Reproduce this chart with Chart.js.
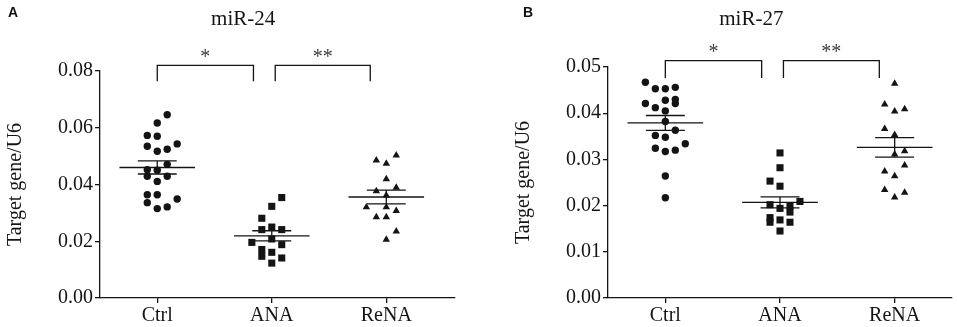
<!DOCTYPE html>
<html>
<head>
<meta charset="utf-8">
<script src="https://cdn.jsdelivr.net/npm/chart.js@4.4.1/dist/chart.umd.min.js"></script>
<style>
body { margin: 0; background: #fff; width: 957px; height: 327px; position: relative; overflow: hidden; }
.panel { position: absolute; top: 0; height: 327px; }
#pa { left: 0; width: 478px; }
#pb { left: 478px; width: 479px; }
.lab { position: absolute; top: 4px; font: bold 14px "Liberation Sans", Arial, sans-serif; color: #111; }
</style>
</head>
<body>
<div class="panel" id="pa"><canvas id="chartA"></canvas></div>
<div class="panel" id="pb"><canvas id="chartB"></canvas></div>
<div class="lab" style="left:8px">A</div>
<div class="lab" style="left:523px">B</div>
<script>
const groups = ['Ctrl', 'ANA', 'ReNA'];

// miR-24 values (column slot = jitter column as drawn in the figure)
const ctrl24 = [0.0646, 0.0617, 0.0573, 0.0570, 0.0535, 0.0517, 0.0524, 0.0543, 0.0471, 0.0452,
                0.0450, 0.0429, 0.0411, 0.0429, 0.0364, 0.0364, 0.0336, 0.0315, 0.0321, 0.0349];
const ctrl24Col = [1, 0, -1, 0, -1, 0, 1, 2, 1, -1, 0, -1, 0, 1, -1, 0, -1, 0, 1, 2];
const ana24 = [0.0354, 0.0323, 0.0281, 0.0241, 0.0250, 0.0241, 0.0196, 0.0208, 0.0188, 0.0171,
               0.0147, 0.0161, 0.0141, 0.0123];
const ana24Col = [1, 0, -1, -1, 0, 1, -2, 0, 1, -1, -1, 0, 1, 0];
const rena24 = [0.0503, 0.0485, 0.0474, 0.0419, 0.0377, 0.0389, 0.0362, 0.0320, 0.0320, 0.0307,
                0.0285, 0.0285, 0.0235, 0.0206];
const rena24Col = [1, -1, 0, 0, -1, 1, 0, -2, 0, 1, -1, 0, 1, 0];
const mean24 = [0.0460, 0.0219, 0.0356];
const sem24 = [0.0023, 0.0018, 0.0024];

// miR-27 values
const ctrl27 = [0.0467, 0.0453, 0.0453, 0.0456, 0.0421, 0.0412, 0.0428, 0.0430, 0.0421, 0.0405,
                0.0382, 0.0363, 0.0352, 0.0348, 0.0334, 0.0324, 0.0317, 0.0320, 0.0264, 0.0217];
const ctrl27Col = [-2, -1, 0, 1, -2, -1, 0, 1, 1, 0, 0, 1, -1, 0, 2, -1, 0, 1, 0, 0];
const ana27 = [0.0314, 0.0282, 0.0253, 0.0242, 0.0202, 0.0209, 0.0194, 0.0199, 0.0186, 0.0174,
               0.0164, 0.0169, 0.0164, 0.0145];
const ana27Col = [0, 0, -1, 0, -1, 2, 0, 1, 1, -1, -1, 0, 1, 0];
const rena27 = [0.0464, 0.0419, 0.0404, 0.0409, 0.0366, 0.0353, 0.0311, 0.0318, 0.0287, 0.0274,
                0.0264, 0.0234, 0.0228, 0.0218];
const rena27Col = [0, -1, 0, 1, -1, 0, 0, 1, 1, -1, 0, -1, 1, 0];
const mean27 = [0.0379, 0.0207, 0.0326];
const sem27 = [0.0016, 0.0012, 0.0021];

const yTicks24 = [0, 0.02, 0.04, 0.06, 0.08];
const yTicks27 = [0, 0.01, 0.02, 0.03, 0.04, 0.05];

const INK = '#141414';
const SERIF = '"Liberation Serif", "Times New Roman", serif';
const SLOT = 0.087;     // jitter column width in category units
const MEAN_HW = 0.33;
const SEM_HW = 0.17;

function pts(vals, cols, g) {
    return vals.map((v, i) => ({ x: g + cols[i] * SLOT, y: v }));
}

function errLines(mean, sem) {
    const d = [];
    mean.forEach((m, i) => {
        const g = i + 1;
        d.push({ x: g - MEAN_HW, y: m }, { x: g + MEAN_HW, y: m }, { x: g, y: null });
        d.push({ x: g - SEM_HW, y: m + sem[i] }, { x: g + SEM_HW, y: m + sem[i] }, { x: g, y: null });
        d.push({ x: g - SEM_HW, y: m - sem[i] }, { x: g + SEM_HW, y: m - sem[i] }, { x: g, y: null });
        d.push({ x: g, y: m - sem[i] }, { x: g, y: m + sem[i] }, { x: g, y: null });
    });
    return d;
}

function bracketLines(br, top, leg) {
    const d = [];
    br.forEach(b => {
        d.push({ x: b[0], y: leg }, { x: b[0], y: top }, { x: b[1], y: top }, { x: b[1], y: leg }, { x: b[0], y: null });
    });
    return d;
}

const annot = {
    id: 'annot',
    afterDatasetsDraw(chart, args, o) {
        const ctx = chart.ctx, xs = chart.scales.x, ys = chart.scales.y;
        ctx.save();
        ctx.fillStyle = INK;
        ctx.textAlign = 'center';
        ctx.textBaseline = 'middle';
        ctx.font = '21px ' + SERIF;
        ctx.fillText(o.title, xs.getPixelForValue(1.75), 19);
        ctx.font = '20px ' + SERIF;
        ctx.fillStyle = '#3a3a3a';
        o.brackets.forEach((b, i) => {
            ctx.fillText(o.stars[i], xs.getPixelForValue((b[0] + b[1]) / 2), ys.getPixelForValue(o.top) - 8);
        });
        ctx.restore();
    }
};

function makeChart(id, cfg) {
    const lineDs = (data) => ({
        type: 'scatter', data: data, showLine: true, spanGaps: false, pointRadius: 0,
        borderColor: INK, borderWidth: 1.3, clip: false
    });
    const dotDs = (data, style, r) => ({
        type: 'scatter', data: data, pointStyle: style, pointRadius: r, pointHoverRadius: r,
        backgroundColor: INK, borderColor: INK, borderWidth: 0
    });
    return new Chart(document.getElementById(id), {
        type: 'scatter',
        data: {
            datasets: [
                dotDs(pts(cfg.ctrl, cfg.ctrlCol, 1), 'circle', 3.7),
                dotDs(pts(cfg.ana, cfg.anaCol, 2), 'rect', 5),
                dotDs(pts(cfg.rena, cfg.renaCol, 3), 'triangle', 4.3),
                lineDs(errLines(cfg.mean, cfg.sem)),
                lineDs(bracketLines(cfg.brackets, cfg.top, cfg.leg))
            ]
        },
        options: {
            responsive: true,
            maintainAspectRatio: false,
            animation: false,
            layout: { padding: cfg.padding },
            plugins: {
                legend: { display: false },
                tooltip: { enabled: false },
                annot: { title: cfg.title, brackets: cfg.brackets, stars: ['*', '**'], top: cfg.top }
            },
            scales: {
                x: {
                    type: 'linear', min: 0.5, max: cfg.xMax,
                    afterBuildTicks: s => { s.ticks = [1, 2, 3].map(v => ({ value: v })); },
                    ticks: { callback: v => groups[v - 1], color: INK, font: { family: SERIF, size: 20 }, padding: 1, maxRotation: 0 },
                    grid: { drawOnChartArea: false, drawTicks: true, tickLength: 5, color: INK, lineWidth: 1.3 },
                    border: { display: true, color: INK, width: 1.3 },
                    afterFit: s => { s.height = 29; }
                },
                y: {
                    min: 0, max: cfg.yTicks[cfg.yTicks.length - 1],
                    afterBuildTicks: s => { s.ticks = cfg.yTicks.map(v => ({ value: v })); },
                    ticks: { callback: v => v.toFixed(2), color: INK, font: { family: SERIF, size: 20 }, padding: 2 },
                    grid: { drawOnChartArea: false, drawTicks: true, tickLength: 5, color: INK, lineWidth: 1.3 },
                    border: { display: true, color: INK, width: 1.3 },
                    title: { display: true, text: 'Target gene/U6', color: INK, font: { family: SERIF, size: 20 }, padding: { top: 4, bottom: 0 } },
                    afterFit: s => { s.width = 100; }
                }
            }
        },
        plugins: [annot]
    });
}

makeChart('chartA', {
    title: 'miR-24', ctrl: ctrl24, ctrlCol: ctrl24Col, ana: ana24, anaCol: ana24Col, rena: rena24, renaCol: rena24Col,
    mean: mean24, sem: sem24, yTicks: yTicks24, xMax: 3.6,
    brackets: [[1, 1.84], [2.03, 2.86]], top: 0.082, leg: 0.0764,
    padding: { left: 0, right: 23, top: 71, bottom: 0 }
});
makeChart('chartB', {
    title: 'miR-27', ctrl: ctrl27, ctrlCol: ctrl27Col, ana: ana27, anaCol: ana27Col, rena: rena27, renaCol: rena27Col,
    mean: mean27, sem: sem27, yTicks: yTicks27, xMax: 3.5,
    brackets: [[1, 1.84], [2.03, 2.866]], top: 0.0514, leg: 0.0476,
    padding: { left: 30, right: 4, top: 67, bottom: 0 }
});
</script>
</body>
</html>
